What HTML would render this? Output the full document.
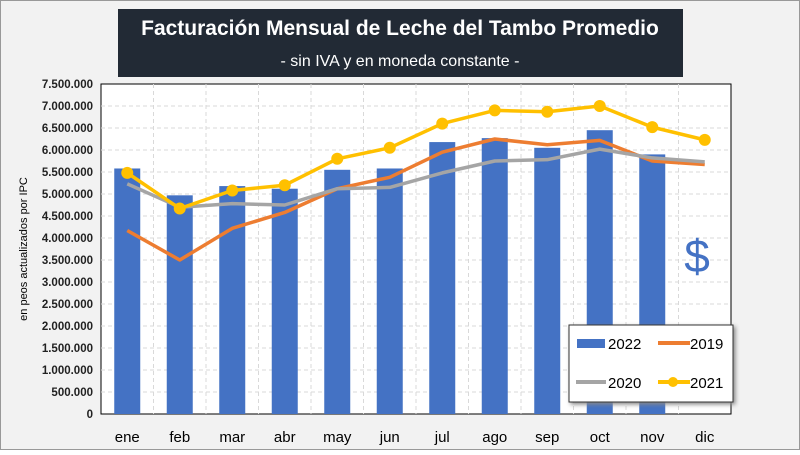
<!DOCTYPE html>
<html><head><meta charset="utf-8"><style>
body{margin:0;background:#fff}
#wrap{position:relative;width:800px;height:450px;background:#f2f2f2;font-family:"Liberation Sans",sans-serif}
</style></head><body>
<div id="wrap">
<svg id="chart" width="800" height="450">
<rect x="0.5" y="0.5" width="799" height="449" fill="#f2f2f2" stroke="#999"/>
<rect x="118" y="9" width="565" height="68" fill="#222a35"/>
<text x="400" y="35" text-anchor="middle" fill="#fff" font-size="21" font-weight="bold">Facturación Mensual de Leche del Tambo Promedio</text>
<text x="400" y="66" text-anchor="middle" fill="#fff" font-size="16">- sin IVA y en moneda constante -</text>
<rect x="101" y="84" width="630" height="330" fill="#fff" stroke="#000"/>
<g id="grid"></g><g id="bars"></g><g id="lines"></g><g id="axes"></g>
<text transform="translate(27,249) rotate(-90)" text-anchor="middle" font-size="11" fill="#000">en peos actualizados por IPC</text>
<text x="697" y="272" text-anchor="middle" font-size="46" fill="#4472c4">$</text>
<g>
<rect x="569" y="325" width="164" height="77" fill="#fff" stroke="#333" style="filter:drop-shadow(2px 2px 2px #888)"/>
<rect x="577" y="339" width="28" height="9" fill="#4472c4"/><text x="608" y="349" font-size="15">2022</text>
<line x1="658" y1="343" x2="690" y2="343" stroke="#ed7d31" stroke-width="4"/><text x="690" y="349" font-size="15">2019</text>
<line x1="576" y1="382" x2="606" y2="382" stroke="#a5a5a5" stroke-width="4"/><text x="608" y="388" font-size="15">2020</text>
<line x1="658" y1="382" x2="690" y2="382" stroke="#ffc000" stroke-width="4"/><circle cx="673" cy="382" r="5" fill="#ffc000"/><text x="690" y="388" font-size="15">2021</text>
</g>
</svg></div>
<script>
const months=["ene","feb","mar","abr","may","jun","jul","ago","sep","oct","nov","dic"];
const s2022=[5.58,4.97,5.18,5.12,5.55,5.58,6.18,6.27,6.05,6.45,5.9,null];
const s2019=[4.17,3.5,4.22,4.58,5.12,5.38,5.95,6.25,6.12,6.22,5.75,5.67];
const s2020=[5.23,4.7,4.78,4.75,5.12,5.15,5.48,5.75,5.78,6.02,5.82,5.73];
const s2021=[5.48,4.67,5.08,5.2,5.8,6.05,6.6,6.9,6.87,7.0,6.52,6.23];
const yTicks=["0","500.000","1.000.000","1.500.000","2.000.000","2.500.000","3.000.000","3.500.000","4.000.000","4.500.000","5.000.000","5.500.000","6.000.000","6.500.000","7.000.000","7.500.000"];
const NS="http://www.w3.org/2000/svg";
const L=101,R=731,T=84,B=414,MAX=7.5;
const bw=(R-L)/months.length;
const x=i=>L+bw*(i+0.5);
const y=v=>B-(v/MAX)*(B-T);
function mk(tag,attrs,parent){const e=document.createElementNS(NS,tag);for(const k in attrs)e.setAttribute(k,attrs[k]);document.getElementById(parent).appendChild(e);return e;}
yTicks.forEach((t,i)=>{const v=i*0.5;
 if(i>0&&i<yTicks.length-1){const g=mk("line",{x1:L,x2:R,y1:y(v),y2:y(v),stroke:"#d9d9d9","stroke-dasharray":"4,3"},"grid");
 
 }
 const tx=mk("text",{x:93,y:y(v)+4,"text-anchor":"end","font-size":"11.5","font-weight":"bold",fill:"#222"},"axes");tx.textContent=t;
 
 });
months.forEach((m,i)=>{ if(i>0){const g=mk("line",{x1:L+bw*i,x2:L+bw*i,y1:T,y2:B,stroke:"#d9d9d9","stroke-dasharray":"4,3"},"grid");
 
 }
 const tx=mk("text",{x:x(i),y:442,"text-anchor":"middle","font-size":"15",fill:"#000"},"axes");tx.textContent=m;
 
 
 if(s2022[i]!=null){const b=mk("rect",{x:x(i)-13,y:y(s2022[i]),width:26,height:B-y(s2022[i]),fill:"#4472c4"},"bars");
 
 }});
function line(data,color,name,dots){const p=mk("polyline",{points:data.map((v,i)=>x(i)+","+y(v)).join(" "),fill:"none",stroke:color,"stroke-width":"3.5","stroke-linejoin":"round"},"lines");
 
 
 if(dots)data.forEach((v,i)=>{const c=mk("circle",{cx:x(i),cy:y(v),r:6,fill:color},"lines");
 
 });}
line(s2019,"#ed7d31","line-2019",false);
line(s2020,"#a5a5a5","line-2020",false);
line(s2021,"#ffc000","line-2021",true);
</script></body></html>
